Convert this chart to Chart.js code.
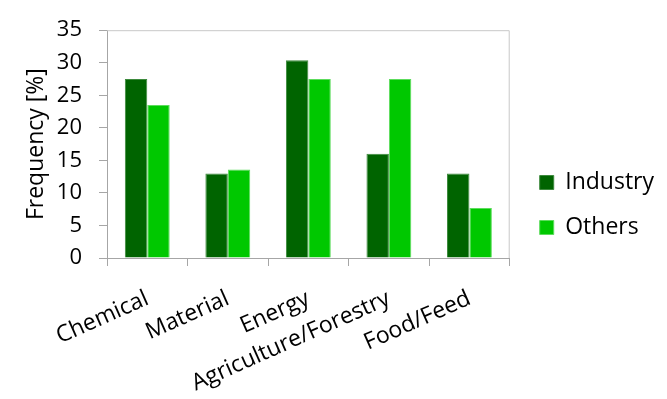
<!DOCTYPE html>
<html>
<head>
<meta charset="utf-8">
<script src="https://cdn.jsdelivr.net/npm/chart.js@4/dist/chart.umd.min.js"></script>
<style>
  html, body { margin: 0; padding: 0; background: #fff; }
  #wrap { width: 667px; height: 399px; position: relative; }
</style>
</head>
<body>
<div id="wrap"><canvas id="c" width="667" height="399"></canvas></div>
<script>
const categories = ['Chemical', 'Material', 'Energy', 'Agriculture/Forestry', 'Food/Feed'];
const industry = [27.5, 13, 30.4, 16, 13];
const others = [23.5, 13.6, 27.5, 27.5, 7.7];
const yTicks = [0, 5, 10, 15, 20, 25, 30, 35];

const FONT = '"Open Sans", "DejaVu Sans", sans-serif';
const AXIS = '#a6a6a6';

const frame = {
  id: 'frame',
  afterLayout(chart) {
    // keep the legend where it sits in the reference while the plot ends further left
    if (chart.legend) { chart.legend.left += 8; chart.legend.right += 8; }
  },
  afterDatasetsDraw(chart) {
    const a = chart.chartArea, ctx = chart.ctx;
    ctx.save();
    ctx.strokeStyle = '#c8c8c8';
    ctx.lineWidth = 1;
    ctx.beginPath();
    ctx.moveTo(a.left, a.top + 0.5);
    ctx.lineTo(a.right - 0.5, a.top + 0.5);
    ctx.lineTo(a.right - 0.5, a.bottom);
    ctx.stroke();
    ctx.restore();
  }
};

new Chart(document.getElementById('c'), {
  type: 'bar',
  data: {
    labels: categories,
    datasets: [
      { label: 'Industry', data: industry, backgroundColor: '#006400', borderColor: '#3d8a3d', borderWidth: 1 },
      { label: 'Others', data: others, backgroundColor: '#00c800', borderColor: '#5cdc5c', borderWidth: 1 }
    ]
  },
  options: {
    responsive: false,
    animation: false,
    devicePixelRatio: 1,
    layout: { padding: { left: 23, right: 11, top: 17, bottom: 6 } },
    datasets: { bar: { barPercentage: 1, categoryPercentage: 0.557 } },
    plugins: {
      legend: {
        position: 'right',
        labels: {
          font: { family: FONT, size: 23 },
          color: '#000',
          boxWidth: 14,
          boxHeight: 14,
          padding: 22
        }
      },
      tooltip: { enabled: false }
    },
    scales: {
      x: {
        offset: true,
        afterFit(axis) { axis.height = 135; },
        grid: { display: true, drawOnChartArea: false, offset: true, color: AXIS, tickLength: 8, tickWidth: 1 },
        border: { display: true, color: AXIS, width: 1 },
        ticks: { font: { family: FONT, size: 23 }, color: '#000', minRotation: 24, maxRotation: 24, autoSkip: false, padding: 19 }
      },
      y: {
        min: 0, max: 35,
        afterBuildTicks(axis) { axis.ticks = yTicks.map(v => ({ value: v })); },
        afterFit(axis) { axis.width = 84; },
        grid: { display: true, drawOnChartArea: false, color: AXIS, tickLength: 8 },
        border: { display: true, color: AXIS, width: 1 },
        ticks: { font: { family: FONT, size: 22 }, color: '#000', padding: 17 },
        title: { display: true, text: 'Frequency [%]', font: { family: FONT, size: 23 }, color: '#000', padding: { top: 0, bottom: 0 } }
      }
    }
  },
  plugins: [frame]
});
</script>
</body>
</html>
